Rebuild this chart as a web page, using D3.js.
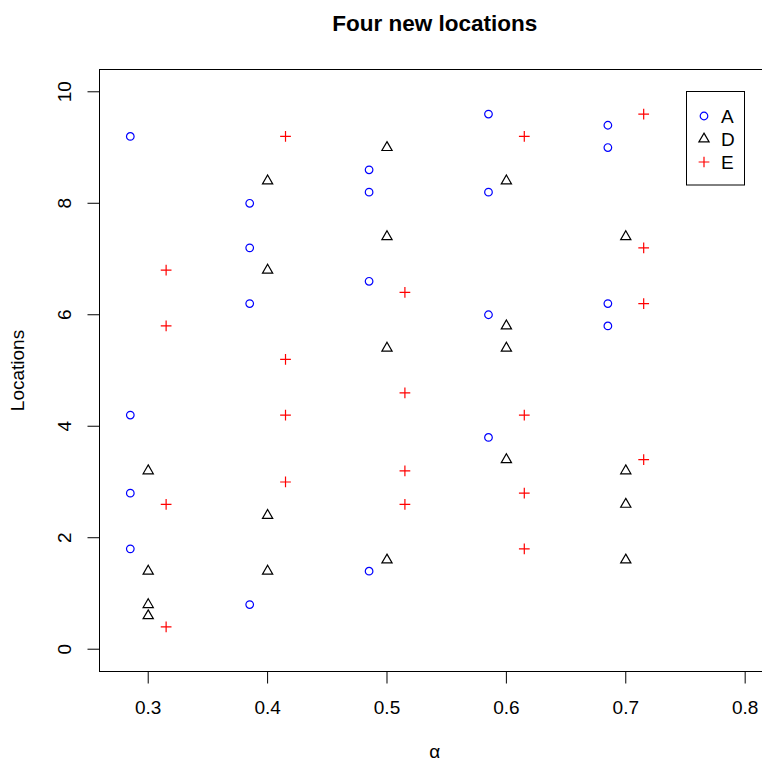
<!DOCTYPE html>
<html>
<head>
<meta charset="utf-8">
<title>Four new locations</title>
<script src="https://d3js.org/d3.v7.min.js"></script>
<style>
  body { margin: 0; background: #fff; }
  text { font-family: "Liberation Sans", Arial, Helvetica, sans-serif; fill: #000; }
</style>
</head>
<body>
<script>
// alpha values of each series (A left, D centre, E right of each group)
var alphaA = [0.285, 0.385, 0.485, 0.585, 0.685];
var alphaD = [0.3, 0.4, 0.5, 0.6, 0.7];
var alphaE = [0.315, 0.415, 0.515, 0.615, 0.715];

// four new locations per alpha value
var locA = [[9.2, 4.2, 2.8, 1.8], [8.0, 7.2, 6.2, 0.8], [8.6, 8.2, 6.6, 1.4], [9.6, 8.2, 6.0, 3.8], [9.4, 9.0, 6.2, 5.8]];
var locD = [[3.2, 1.4, 0.8, 0.6], [8.4, 6.8, 2.4, 1.4], [9.0, 7.4, 5.4, 1.6], [8.4, 5.8, 5.4, 3.4], [7.4, 3.2, 2.6, 1.6]];
var locE = [[6.8, 5.8, 2.6, 0.4], [9.2, 5.2, 4.2, 3.0], [6.4, 4.6, 3.2, 2.6], [9.2, 4.2, 2.8, 1.8], [9.6, 7.2, 6.2, 3.4]];

var xTicks = [0.3, 0.4, 0.5, 0.6, 0.7, 0.8];
var yTicks = [0, 2, 4, 6, 8, 10];
var legendLabels = ["A", "D", "E"];

var width = 762, height = 761;
var pLeft = 99.5, pRight = 770, pTop = 69.5, pBottom = 671.5;

var svg = d3.select("body").append("svg")
  .attr("width", width)
  .attr("height", height);

// R style: limits extended by 4%
var xr = 0.8 - 0.28, yr = 10;
var x = d3.scaleLinear().domain([0.28 - 0.04 * xr, 0.8 + 0.04 * xr]).range([pLeft, pRight]);
var y = d3.scaleLinear().domain([-0.04 * yr, 10 + 0.04 * yr]).range([pBottom, pTop]);

function flatten(alphas, locs) {
  var out = [];
  alphas.forEach(function(a, i) {
    locs[i].forEach(function(v) { out.push({ a: a, v: v }); });
  });
  return out;
}

var series = [
  { name: "A", color: "#0000ff", shape: "circle", pts: flatten(alphaA, locA) },
  { name: "D", color: "#000000", shape: "triangle", pts: flatten(alphaD, locD) },
  { name: "E", color: "#ff0000", shape: "plus", pts: flatten(alphaE, locE) }
];

var R = 3.8;
function symbolPath(shape) {
  if (shape === "circle") {
    return "M" + R + ",0A" + R + "," + R + " 0 1,1 " + (-R) + ",0A" + R + "," + R + " 0 1,1 " + R + ",0Z";
  }
  if (shape === "triangle") {
    var r = 1.5551 * R, xc = 1.3468 * R, yc = 0.7776 * R;
    return "M0," + (-r) + "L" + xc + "," + yc + "L" + (-xc) + "," + yc + "Z";
  }
  var p = Math.SQRT2 * R;
  return "M" + (-p) + ",0H" + p + "M0," + (-p) + "V" + p;
}

// points
series.forEach(function(s) {
  svg.append("g").selectAll("path").data(s.pts).enter().append("path")
    .attr("d", symbolPath(s.shape))
    .attr("transform", function(d) { return "translate(" + x(d.a) + "," + y(d.v) + ")"; })
    .attr("fill", "none")
    .attr("stroke", s.color)
    .attr("stroke-width", 1.2);
});

// frame
svg.append("rect")
  .attr("x", pLeft).attr("y", pTop)
  .attr("width", pRight - pLeft).attr("height", pBottom - pTop)
  .attr("fill", "none").attr("stroke", "#000").attr("stroke-width", 1);

// x axis
var xAxis = svg.append("g");
xAxis.selectAll("line").data(xTicks).enter().append("line")
  .attr("x1", function(d) { return x(d); }).attr("x2", function(d) { return x(d); })
  .attr("y1", pBottom).attr("y2", pBottom + 12)
  .attr("stroke", "#000");
xAxis.selectAll("text").data(xTicks).enter().append("text")
  .attr("x", function(d) { return x(d); })
  .attr("y", 714)
  .attr("text-anchor", "middle")
  .style("font-size", "19px")
  .text(function(d) { return d3.format(".1f")(d); });

// y axis
var yAxis = svg.append("g");
yAxis.selectAll("line").data(yTicks).enter().append("line")
  .attr("x1", pLeft - 12).attr("x2", pLeft)
  .attr("y1", function(d) { return y(d); }).attr("y2", function(d) { return y(d); })
  .attr("stroke", "#000");
yAxis.selectAll("text").data(yTicks).enter().append("text")
  .attr("transform", function(d) { return "translate(71," + y(d) + ") rotate(-90)"; })
  .attr("text-anchor", "middle")
  .style("font-size", "19px")
  .text(function(d) { return d; });

// titles
svg.append("text")
  .attr("x", (pLeft + pRight) / 2).attr("y", 31)
  .attr("text-anchor", "middle")
  .style("font-size", "22.5px").style("font-weight", "bold")
  .text("Four new locations");

svg.append("text")
  .attr("x", (pLeft + pRight) / 2).attr("y", 758)
  .attr("text-anchor", "middle")
  .style("font-size", "19px")
  .text("α");

svg.append("text")
  .attr("transform", "translate(24," + (pTop + pBottom) / 2 + ") rotate(-90)")
  .attr("text-anchor", "middle")
  .style("font-size", "19px")
  .text("Locations");

// legend
var legend = svg.append("g");
legend.append("rect")
  .attr("x", 686.5).attr("y", 91.5).attr("width", 58).attr("height", 93.5)
  .attr("fill", "#fff").attr("stroke", "#000");
series.forEach(function(s, i) {
  var ly = 116 + i * 23;
  legend.append("path")
    .attr("d", symbolPath(s.shape))
    .attr("transform", "translate(704," + ly + ")")
    .attr("fill", "none").attr("stroke", s.color).attr("stroke-width", 1.2);
  legend.append("text")
    .attr("x", 721).attr("y", ly + 6.5)
    .style("font-size", "19px")
    .text(legendLabels[i]);
});
</script>
</body>
</html>
